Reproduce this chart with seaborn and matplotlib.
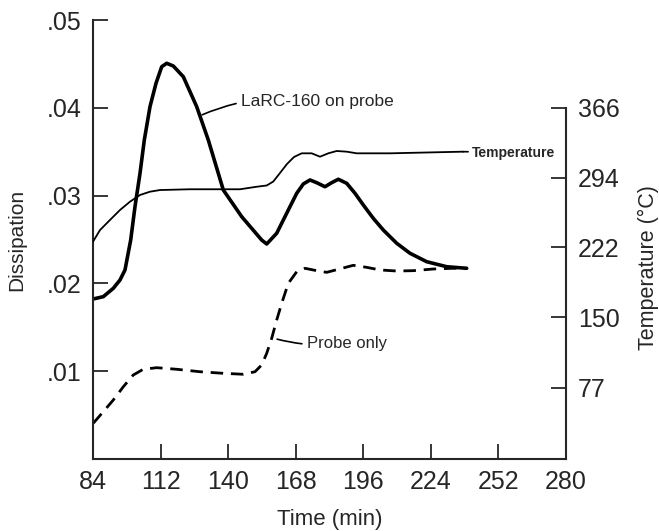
import matplotlib
matplotlib.use("Agg")
import matplotlib.pyplot as plt
import seaborn as sns
import pandas as pd

# ---- data ----
larc_time = [84.0, 88.27, 92.41, 95.19, 97.26, 99.62, 101.40, 103.48, 105.26, 107.62, 110.11, 112.47,
             114.54, 117.27, 121.42, 126.97, 131.78, 135.92, 137.99, 145.62, 153.90, 155.98, 160.12,
             162.86, 165.63, 168.41, 171.14, 173.92, 176.69, 180.13, 182.91, 185.65, 189.13, 192.57,
             196.01, 200.15, 204.29, 209.85, 215.36, 222.28, 230.57, 238.85]
larc_diss = [0.01822, 0.01849, 0.01944, 0.02039, 0.02153, 0.02494, 0.02874, 0.03254, 0.03633, 0.04013,
             0.04279, 0.04468, 0.04507, 0.04476, 0.04354, 0.04013, 0.03633, 0.03254, 0.03064, 0.02760,
             0.02494, 0.02449, 0.02571, 0.02722, 0.02874, 0.03026, 0.03132, 0.03178, 0.03147, 0.03101,
             0.03147, 0.03186, 0.03140, 0.03026, 0.02893, 0.02741, 0.02608, 0.02457, 0.02343, 0.02247,
             0.02190, 0.02172]

probe_time = [84.1, 88.27, 92.41, 96.56, 100.70, 104.84, 110.40, 118.68, 128.34, 137.99, 146.28, 151.13,
              153.90, 155.98, 158.05, 160.12, 162.19, 164.93, 168.41, 171.85, 176.69, 180.84, 191.86,
              197.41, 202.93, 209.85, 216.72, 225.01, 233.30, 238.85]
probe_diss = [0.00407, 0.00539, 0.00672, 0.00823, 0.00957, 0.01022, 0.01040, 0.01022, 0.00994, 0.00976,
              0.00965, 0.00994, 0.01071, 0.01204, 0.01375, 0.01583, 0.01773, 0.02001, 0.02133, 0.02172,
              0.02145, 0.02126, 0.02206, 0.02183, 0.02153, 0.02141, 0.02145, 0.02164, 0.02172, 0.02172]

temp_time = [84.0, 86.90, 91.04, 95.19, 99.33, 103.48, 107.62, 111.76, 124.19, 144.91, 151.83, 155.98,
             158.71, 161.49, 164.39, 167.29, 170.48, 174.62, 178.06, 181.50, 184.98, 189.13, 193.27,
             207.07, 237.44]
temp_c = [228.0, 240.0, 250.4, 260.7, 269.3, 276.2, 279.6, 281.3, 282.1, 282.1, 284.7, 286.0,
          290.1, 298.9, 308.2, 315.4, 319.2, 319.2, 315.7, 319.2, 321.6, 320.9, 319.2,
          319.2, 320.9]

x_ticks = [84, 112, 140, 168, 196, 224, 252, 280]
diss_ticks = [0.01, 0.02, 0.03, 0.04, 0.05]
diss_tick_labels = [".01", ".02", ".03", ".04", ".05"]
temp_ticks = [77, 150, 222, 294, 366]

# ---- styling ----
sns.set_style("ticks")
plt.rcParams["font.family"] = ["Liberation Sans", "DejaVu Sans"]

fig = plt.figure(figsize=(6.59, 5.31), dpi=100)
ax = fig.add_axes([93 / 659, (531 - 459) / 531, (566 - 93) / 659, (459 - 20) / 531])
ax2 = ax.twinx()

larc_df = pd.DataFrame({"t": larc_time, "d": larc_diss})
probe_df = pd.DataFrame({"t": probe_time, "d": probe_diss})
temp_df = pd.DataFrame({"t": temp_time, "T": temp_c})

sns.lineplot(data=larc_df, x="t", y="d", ax=ax, color="black", lw=2.6, sort=False)
sns.lineplot(data=probe_df, x="t", y="d", ax=ax, color="black", lw=2.0, sort=False,
             linestyle=(0, (4.5, 2.8)))
sns.lineplot(data=temp_df, x="t", y="T", ax=ax2, color="black", lw=1.3, sort=False)

ax.set_xlim(84, 280)
ax.set_ylim(0, 0.05)
ax2.set_ylim(3.7, 456.8)

ax.set_xticks(x_ticks)
ax.set_xticklabels([str(v) for v in x_ticks])
ax.set_yticks(diss_ticks)
ax.set_yticklabels(diss_tick_labels)
ax2.set_yticks(temp_ticks)
ax2.set_yticklabels([str(v) for v in temp_ticks])

for a in (ax, ax2):
    a.spines["top"].set_visible(False)
    for s in a.spines.values():
        s.set_linewidth(1.5)
ax.spines["right"].set_visible(False)
ax2.spines["left"].set_visible(False)
ax2.spines["bottom"].set_visible(False)
ax2.spines["right"].set_bounds(3.7, 366)

ax.tick_params(axis="x", direction="in", length=11, width=1.3, labelsize=18, pad=8)
ax.tick_params(axis="y", direction="in", length=11, width=1.3, labelsize=18, pad=8)
ax2.tick_params(axis="y", direction="in", length=11, width=1.3, labelsize=18, pad=8.5)

ax.set_xlabel("Time (min)", fontsize=16, labelpad=11)
ax.set_ylabel("Dissipation", fontsize=15, labelpad=15)
ax2.set_ylabel("Temperature (°C)", fontsize=15.5)
ax2.yaxis.set_label_coords(1.152, 0.435)

# ---- annotations ----
ax.annotate("LaRC-160 on probe", xy=(129.2, 0.0392), xytext=(145.2, 0.0407),
            fontsize=12.5, va="center", ha="left",
            arrowprops=dict(arrowstyle="-", color="black", lw=1.2,
                            connectionstyle="arc3,rad=0.15", shrinkA=1, shrinkB=0))
ax.annotate("Probe only", xy=(160.3, 0.01365), xytext=(172.5, 0.0132),
            fontsize=12, va="center", ha="left",
            arrowprops=dict(arrowstyle="-", color="black", lw=1.2,
                            connectionstyle="arc3,rad=-0.1", shrinkA=1, shrinkB=0))
ax2.annotate("Temperature", xy=(237.4, 320.9), xytext=(240.8, 320.0),
             fontsize=10, fontweight="bold", va="center", ha="left",
             arrowprops=dict(arrowstyle="-", color="black", lw=1.2, shrinkA=0, shrinkB=0))

fig.savefig("out.png", dpi=100)
